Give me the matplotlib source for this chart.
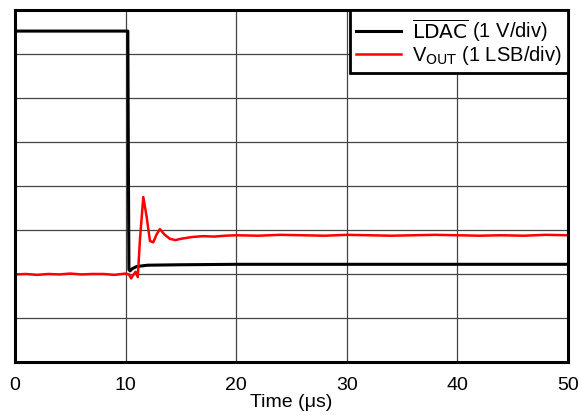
import matplotlib.pyplot as plt

plt.rcParams['font.family'] = ['Liberation Sans', 'DejaVu Sans']

# LDAC trace (in divisions)
ldac_t = [0, 5, 10.2, 10.25, 10.3, 10.4, 10.6, 11, 12, 15, 20, 30, 40, 50]
ldac_v = [7.52, 7.52, 7.52, 4.5, 2.1, 2.07, 2.12, 2.17, 2.2, 2.21, 2.22, 2.22, 2.22, 2.22]

# VOUT trace (in divisions)
vout_t = [0, 1, 2, 3, 4, 5, 6, 7, 8, 9, 10, 10.3, 10.5, 10.7, 10.9, 11.1, 11.3,
          11.6, 11.9, 12.2, 12.5, 12.8, 13.1, 13.5, 14.0, 14.5, 15, 16, 17, 18,
          19, 20, 22, 24, 26, 28, 30, 32, 34, 36, 38, 40, 42, 44, 46, 48, 50]
vout_v = [1.99, 2.0, 1.98, 2.0, 1.99, 2.01, 1.99, 2.0, 2.0, 1.98, 2.01, 1.99,
          1.9, 1.98, 2.05, 1.93, 2.8, 3.75, 3.3, 2.75, 2.72, 2.9, 3.02, 2.9,
          2.8, 2.77, 2.8, 2.84, 2.86, 2.85, 2.87, 2.88, 2.87, 2.89, 2.88, 2.87,
          2.89, 2.88, 2.87, 2.88, 2.89, 2.88, 2.87, 2.88, 2.87, 2.89, 2.88]

xticks = [0, 10, 20, 30, 40, 50]

fig = plt.figure(figsize=(5.82, 4.15), dpi=100)
ax = fig.add_axes([0.0258, 0.1277, 0.9502, 0.8483])

ax.plot(ldac_t, ldac_v, color='black', lw=2.2, label=r'$\overline{\mathrm{LDAC}}$ (1 V/div)')
ax.plot(vout_t, vout_v, color='#ff0000', lw=1.8, label=r'V$_{\mathrm{OUT}}$ (1 LSB/div)')

ax.set_xlim(0, 50)
ax.set_ylim(0, 8)
ax.set_xticks(xticks)
ax.set_xticklabels([str(t) for t in xticks], fontsize=14)
ax.set_yticks(range(9))
ax.set_yticklabels([])
ax.tick_params(length=0, pad=11)
ax.grid(True, color='#444444', lw=0.9)
for s in ax.spines.values():
    s.set_linewidth(2.2)
ax.set_xlabel('Time (\u03bcs)', fontsize=14, labelpad=0)

leg = ax.legend(loc='upper right', borderaxespad=0, fancybox=False, fontsize=14.5,
                handlelength=2.2, handletextpad=0.55, labelspacing=0.0,
                borderpad=0.33, framealpha=1)
leg.get_frame().set_edgecolor('black')
leg.get_frame().set_linewidth(2.0)

fig.savefig('out.png', dpi=100)
